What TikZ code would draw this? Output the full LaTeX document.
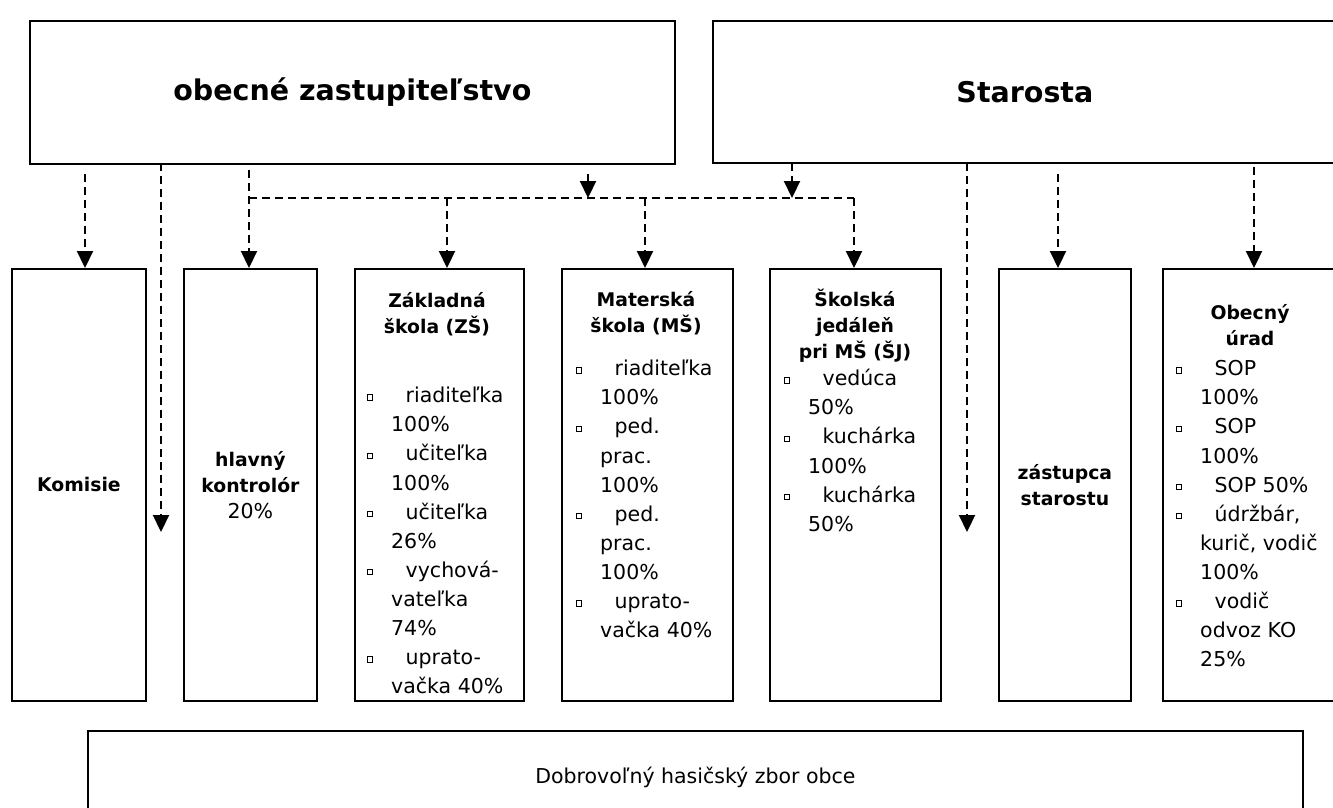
\documentclass[tikz,border=0pt]{standalone}
\usepackage{fontspec}
\setmainfont{DejaVu Sans}
\usetikzlibrary{arrows.meta}
\newcommand{\titlesz}{\bfseries\fontsize{28.5}{34}\selectfont}
\newcommand{\headsz}{\bfseries\fontsize{18.8}{26}\selectfont}
\newcommand{\bodysz}{\fontsize{20.5}{29.1}\selectfont}
\newcommand{\sqbul}{\raisebox{3pt}{\setlength{\fboxsep}{0pt}\setlength{\fboxrule}{0.9pt}\fbox{\rule{0pt}{4.5pt}\rule{4.5pt}{0pt}}}}
\newcommand{\ositem}{\llap{\sqbul\hspace{18pt}}\hspace{14.5pt}}
\newcommand{\topln}{\rule{0pt}{22pt}}
\newcommand{\tophd}{\rule{0pt}{20pt}}
\tikzset{
    box/.style={draw=black, line width=1.8pt, inner sep=0pt, anchor=north west, align=center},
    hd/.style={font=\headsz, align=center, inner sep=0pt, anchor=north},
    list/.style={font=\bodysz, align=left, inner sep=0pt, anchor=north west},
    link/.style={line width=2.2pt, dash pattern=on 8pt off 5pt},
    arr/.style={-{Triangle[length=17pt,width=16pt]}}
}

\begin{document}
\begin{tikzpicture}[x=1pt, y=-1pt]
    \clip (0,0) rectangle (1333,808);
    \fill[white] (0,0) rectangle (1333,808);

    % Top level
    \node[box, minimum width=645pt, minimum height=143pt, font=\titlesz] (zast) at (29,20) {obecné zastupiteľstvo};
    \node[box, minimum width=624pt, minimum height=142pt, font=\titlesz] (staro) at (712,20) {Starosta};

    % Second level boxes
    \node[box, minimum width=134pt, minimum height=432pt, font=\headsz] (komisie) at (11,268) {Komisie};
    \node[box, minimum width=133pt, minimum height=432pt, font=\headsz] (kontrolor) at (183,268) {hlavný\\kontrolór\\{\mdseries\bodysz 20\%}};
    \node[box, minimum width=169pt, minimum height=432pt] (zs) at (354,268) {};
    \node[box, minimum width=171pt, minimum height=432pt] (ms) at (561,268) {};
    \node[box, minimum width=171pt, minimum height=432pt] (sj) at (769,268) {};
    \node[box, minimum width=132pt, minimum height=432pt, font=\headsz] (zastupca) at (998,268) {zástupca\\starostu};
    \node[box, minimum width=176pt, minimum height=432pt] (urad) at (1162,268) {};

    % Headings and staff lists
    \node[hd] (zs-hd) at (437,287) {\tophd Základná\\škola (ZŠ)};
    \node[list] (zs-list) at (391,380.5) {\topln\ositem riaditeľka\\100\%\\\ositem učiteľka\\100\%\\\ositem učiteľka\\26\%\\\ositem vychová-\\vateľka\\74\%\\\ositem uprato-\\vačka 40\%};
    \node[hd] (ms-hd) at (646,286) {\tophd Materská\\škola (MŠ)};
    \node[list] (ms-list) at (600,353.5) {\topln\ositem riaditeľka\\100\%\\\ositem ped.\\prac.\\100\%\\\ositem ped.\\prac.\\100\%\\\ositem uprato-\\vačka 40\%};
    \node[hd] (sj-hd) at (855,286) {\tophd Školská\\jedáleň\\pri MŠ (ŠJ)};
    \node[list] (sj-list) at (808,363.5) {\topln\ositem vedúca\\50\%\\\ositem kuchárka\\100\%\\\ositem kuchárka\\50\%};
    \node[hd] (urad-hd) at (1250,299) {\tophd Obecný\\úrad};
    \node[list] (urad-list) at (1200,353.5) {\topln\ositem SOP\\100\%\\\ositem SOP\\100\%\\\ositem SOP 50\%\\\ositem údržbár,\\kurič, vodič\\100\%\\\ositem vodič\\odvoz KO\\25\%};

    % Bottom box
    \node[box, minimum width=1215pt, minimum height=94pt, font=\bodysz] (hasici) at (87,730) {Dobrovoľný hasičský zbor obce};

    % Links from obecné zastupiteľstvo
    \coordinate (z1) at (85,174);
    \coordinate (z2) at (161,163);
    \coordinate (z2end) at (161,532);
    \coordinate (z3) at (249,170);
    \coordinate (z4) at (588,174);
    \coordinate (bus-l) at (249,198);
    \coordinate (bus-r) at (854,198);
    \coordinate (b1) at (447,198);
    \coordinate (b2) at (645,198);
    \draw[link, arr] (z1) -- (z1 |- komisie.north);
    \draw[link, arr] (z2) -- (z2end);
    \draw[link, arr] (z3) -- (z3 |- kontrolor.north);
    \draw[link, arr] (z4) -- (z4 |- bus-l);
    \draw[link] (bus-l) -- (bus-r);
    \draw[link, arr] (b1) -- (b1 |- zs.north);
    \draw[link, arr] (b2) -- (b2 |- ms.north);
    \draw[link, arr] (bus-r) -- (bus-r |- sj.north);

    % Links from Starosta
    \coordinate (s1) at (792,163);
    \coordinate (s2) at (967,163);
    \coordinate (s2end) at (967,532);
    \coordinate (s3) at (1058,174);
    \coordinate (s4) at (1254,167);
    \draw[link, arr] (s1) -- (s1 |- bus-r);
    \draw[link, arr] (s2) -- (s2end);
    \draw[link, arr] (s3) -- (s3 |- zastupca.north);
    \draw[link, arr] (s4) -- (s4 |- urad.north);
\end{tikzpicture}
\end{document}
